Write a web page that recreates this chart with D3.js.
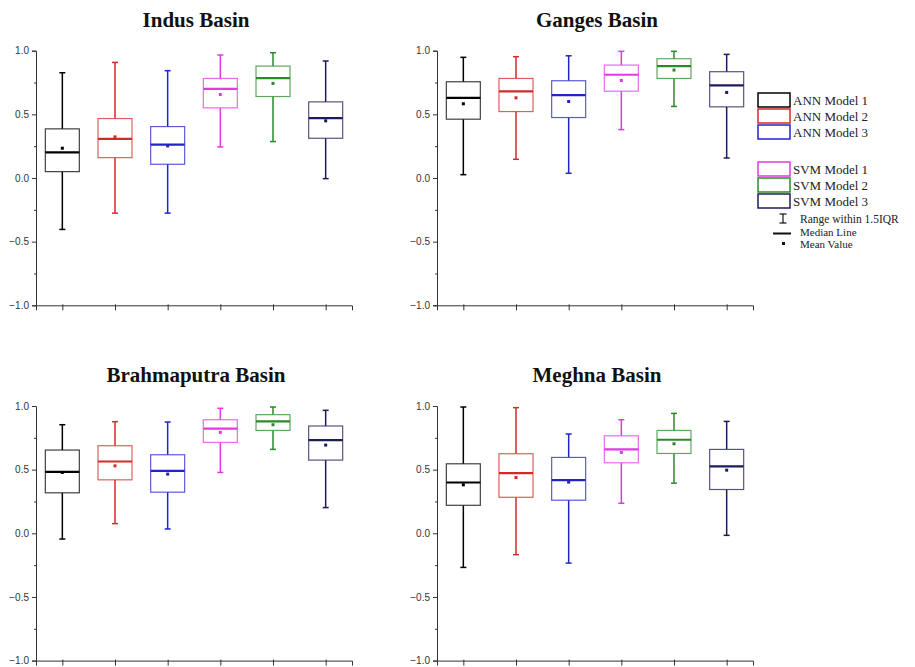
<!DOCTYPE html>
<html>
<head>
<meta charset="utf-8">
<script src="https://cdn.jsdelivr.net/npm/d3@7"></script>
<style>
  body { margin: 0; background: #fff; }
  svg { display: block; }
</style>
</head>
<body>
<div id="chart"></div>
<script>
// model names + colours
const models = ["ANN Model 1", "ANN Model 2", "ANN Model 3", "SVM Model 1", "SVM Model 2", "SVM Model 3"];
const colors = ["#000000", "#d42a2a", "#2323c8", "#e03ae0", "#2a8a2a", "#1c1c5a"];

// each row: [whisker low, Q1, median, Q3, whisker high, mean]
const indus = [
  [-0.404, 0.050, 0.202, 0.386, 0.827, 0.234],
  [-0.276, 0.160, 0.307, 0.467, 0.908, 0.323],
  [-0.276, 0.108, 0.262, 0.404, 0.843, 0.252],
  [0.244, 0.551, 0.700, 0.782, 0.966, 0.656],
  [0.286, 0.640, 0.785, 0.879, 0.984, 0.743],
  [-0.005, 0.312, 0.470, 0.598, 0.919, 0.449]
];
const ganges = [
  [0.026, 0.462, 0.630, 0.756, 0.948, 0.583],
  [0.147, 0.522, 0.680, 0.782, 0.953, 0.630],
  [0.037, 0.475, 0.651, 0.764, 0.960, 0.601],
  [0.380, 0.682, 0.811, 0.887, 0.995, 0.766],
  [0.562, 0.782, 0.879, 0.937, 0.995, 0.848],
  [0.157, 0.559, 0.727, 0.835, 0.971, 0.672]
];
const brahmaputra = [
  [-0.045, 0.318, 0.483, 0.654, 0.853, 0.478],
  [0.076, 0.420, 0.564, 0.688, 0.877, 0.530],
  [0.034, 0.323, 0.491, 0.617, 0.874, 0.465],
  [0.478, 0.714, 0.822, 0.892, 0.982, 0.793],
  [0.659, 0.808, 0.879, 0.932, 0.992, 0.853],
  [0.202, 0.575, 0.732, 0.843, 0.966, 0.693]
];
const meghna = [
  [-0.268, 0.220, 0.399, 0.546, 0.992, 0.381],
  [-0.168, 0.283, 0.472, 0.625, 0.987, 0.438],
  [-0.234, 0.260, 0.417, 0.596, 0.780, 0.402],
  [0.236, 0.554, 0.659, 0.766, 0.892, 0.635],
  [0.394, 0.627, 0.735, 0.808, 0.942, 0.703],
  [-0.016, 0.344, 0.525, 0.659, 0.879, 0.496]
];

const titles = ["Indus Basin", "Ganges Basin", "Brahmaputra Basin", "Meghna Basin"];
const basinData = [indus, ganges, brahmaputra, meghna];
const yTicks = [-1.0, -0.5, 0.0, 0.5, 1.0];
const yMinor = [-0.75, -0.25, 0.25, 0.75];

const W = 915, H = 667;
const plotW = 316, plotH = 254.6;
const origins = [[36, 50.7], [437, 50.7], [36, 406], [437, 406]];

const svg = d3.select("#chart").append("svg")
  .attr("width", W).attr("height", H);

const x = d3.scalePoint().domain(models).range([0, plotW]).padding(0.5);
const y = d3.scaleLinear().domain([-1, 1]).range([plotH, 0]);
const boxW = 34, capW = 6;
const serif = "'Liberation Serif', 'Times New Roman', serif";

basinData.forEach((rows, p) => {
  const [ox, oy] = origins[p];
  const g = svg.append("g").attr("transform", `translate(${ox},${oy})`);

  // title
  g.append("text")
    .attr("x", plotW / 2 + 2).attr("y", -24)
    .attr("text-anchor", "middle")
    .style("font-family", serif)
    .style("font-size", "21px").style("font-weight", "700")
    .attr("fill", "#111")
    .text(titles[p]);

  // y axis
  const ya = g.append("g")
    .call(d3.axisLeft(y).tickValues(yTicks).tickFormat(d3.format(".1f")).tickSize(4).tickPadding(3));
  ya.select(".domain").attr("stroke", "#333");
  ya.selectAll(".tick line").attr("stroke", "#333");
  ya.selectAll(".tick text")
    .style("font-family", "'Liberation Sans', Arial, sans-serif")
    .style("font-size", "10px").attr("fill", "#333");
  g.append("g")
    .call(d3.axisLeft(y).tickValues(yMinor).tickFormat("").tickSize(2))
    .call(a => a.select(".domain").remove())
    .selectAll("line").attr("stroke", "#333");

  // x axis
  const xa = g.append("g")
    .attr("transform", `translate(0,${plotH})`)
    .call(d3.axisBottom(x).tickFormat("").tickSizeOuter(0).tickSize(5));
  xa.select(".domain").attr("stroke", "#333");
  xa.selectAll(".tick line").attr("stroke", "#333").attr("y1", -1);

  // boxes
  rows.forEach((r, i) => {
    const [lo, q1, med, q3, hi, mean] = r;
    const cx = x(models[i]);
    const c = colors[i];
    const bg = g.append("g");
    // whiskers
    bg.append("line").attr("x1", cx).attr("x2", cx).attr("y1", y(hi)).attr("y2", y(q3))
      .attr("stroke", c).attr("stroke-width", 1.5);
    bg.append("line").attr("x1", cx).attr("x2", cx).attr("y1", y(q1)).attr("y2", y(lo))
      .attr("stroke", c).attr("stroke-width", 1.5);
    [hi, lo].forEach(v => {
      bg.append("line").attr("x1", cx - capW / 2).attr("x2", cx + capW / 2)
        .attr("y1", y(v)).attr("y2", y(v))
        .attr("stroke", c).attr("stroke-width", 1.5);
    });
    // box
    bg.append("rect")
      .attr("x", cx - boxW / 2).attr("width", boxW)
      .attr("y", y(q3)).attr("height", y(q1) - y(q3))
      .attr("fill", "#fff").attr("stroke", c)
      .attr("stroke-opacity", 0.75).attr("stroke-width", 1.2);
    // median
    bg.append("line").attr("x1", cx - boxW / 2).attr("x2", cx + boxW / 2)
      .attr("y1", y(med)).attr("y2", y(med))
      .attr("stroke", c).attr("stroke-width", 2.2);
    // mean
    bg.append("rect")
      .attr("x", cx - 1.5).attr("y", y(mean) - 1.5)
      .attr("width", 3).attr("height", 3)
      .attr("fill", c);
  });
});

// legend
const leg = svg.append("g").attr("transform", "translate(758,0)");
const legRowY = [93, 109, 125, 162, 178, 194];
models.forEach((m, i) => {
  leg.append("rect")
    .attr("x", 0).attr("y", legRowY[i])
    .attr("width", 32).attr("height", 14)
    .attr("fill", "#fff").attr("stroke", colors[i]).attr("stroke-width", 1.5);
  leg.append("text")
    .attr("x", 35).attr("y", legRowY[i] + 11.5)
    .style("font-family", serif).style("font-size", "13px")
    .attr("fill", "#222")
    .text(m);
});

// symbol legend
const sy = leg.append("g");
sy.append("line").attr("x1", 25).attr("x2", 25).attr("y1", 214).attr("y2", 223).attr("stroke", "#111").attr("stroke-width", 1.2);
sy.append("line").attr("x1", 21.5).attr("x2", 28.5).attr("y1", 214).attr("y2", 214).attr("stroke", "#111").attr("stroke-width", 1.2);
sy.append("line").attr("x1", 21.5).attr("x2", 28.5).attr("y1", 223).attr("y2", 223).attr("stroke", "#111").attr("stroke-width", 1.2);
sy.append("text").attr("x", 42).attr("y", 222.5)
  .style("font-family", serif).style("font-size", "11.5px").attr("fill", "#222")
  .text("Range within 1.5IQR");
sy.append("line").attr("x1", 15).attr("x2", 33).attr("y1", 233.5).attr("y2", 233.5).attr("stroke", "#111").attr("stroke-width", 2);
sy.append("text").attr("x", 42).attr("y", 235.5)
  .style("font-family", serif).style("font-size", "11px").attr("fill", "#222")
  .text("Median Line");
sy.append("rect").attr("x", 24).attr("y", 242).attr("width", 3).attr("height", 3).attr("fill", "#111");
sy.append("text").attr("x", 42).attr("y", 248)
  .style("font-family", serif).style("font-size", "11px").attr("fill", "#222")
  .text("Mean Value");
</script>
</body>
</html>
